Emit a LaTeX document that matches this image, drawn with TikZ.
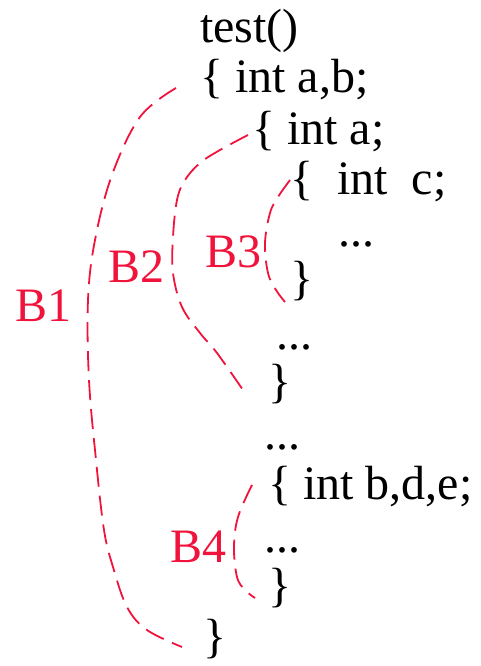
\documentclass[tikz,border=0pt]{standalone}
\usepackage{fontspec}
\setmainfont{Liberation Serif}
\usepackage{tikz}
\definecolor{blockred}{RGB}{240,20,60}

\begin{document}
\begin{tikzpicture}[x=1pt,y=1pt,
    code/.style={anchor=base west,inner sep=0pt,font=\fontsize{48}{58}\selectfont},
    blocklabel/.style={code,text=blockred},
    blockline/.style={blockred,line width=1.8pt,dash pattern=on 20pt off 9pt}]
    \useasboundingbox (0,0) rectangle (480,666);

    % program text
    \node[code] (head) at (200,623) {test()};
    \node[code] (l1) at (200,573) {\{ int a,b;};
    \node[code] (l2) at (252,521) {\{ int a;};
    \node[code] (l3) at (290,471) {\{\ \ int\ \ c;};
    \node[code] (l4) at (338,419) {...};
    \node[code] (l5) at (290,371) {\}};
    \node[code] (l6) at (276,316) {...};
    \node[code] (l7) at (268,268) {\}};
    \node[code] (l8) at (264,216) {...};
    \node[code] (l9) at (268,166) {\{ int b,d,e;};
    \node[code] (l10) at (264,113) {...};
    \node[code] (l11) at (268,64) {\}};
    \node[code] (l12) at (203,13) {\}};

    % block labels
    \node[blocklabel] (b1) at (15,344) {B1};
    \node[blocklabel] (b2) at (108,383) {B2};
    \node[blocklabel] (b3) at (205,398) {B3};
    \node[blocklabel] (b4) at (170,103) {B4};

    % block brackets
    \draw[blockline] plot[smooth,tension=0.6] coordinates {(176,578) (140,549) (112,491) (95,426) (88,366)
        (89,286) (96,206) (104,136) (113,99) (127,59) (147,36) (182,19)};
    \draw[blockline] plot[smooth,tension=0.6] coordinates {(248,531) (220,516) (200,503) (185,486) (177,466)
        (173,429) (173,393) (182,359) (200,333) (217,313) (243,276)};
    \draw[blockline] plot[smooth,tension=0.6] coordinates {(290,486) (278,469) (270,453) (265,423) (268,393)
        (276,376) (285,364)};
    \draw[blockline] plot[smooth,tension=0.6] coordinates {(252,181) (238,149) (234,119) (237,89) (245,76) (255,68)};
\end{tikzpicture}
\end{document}
